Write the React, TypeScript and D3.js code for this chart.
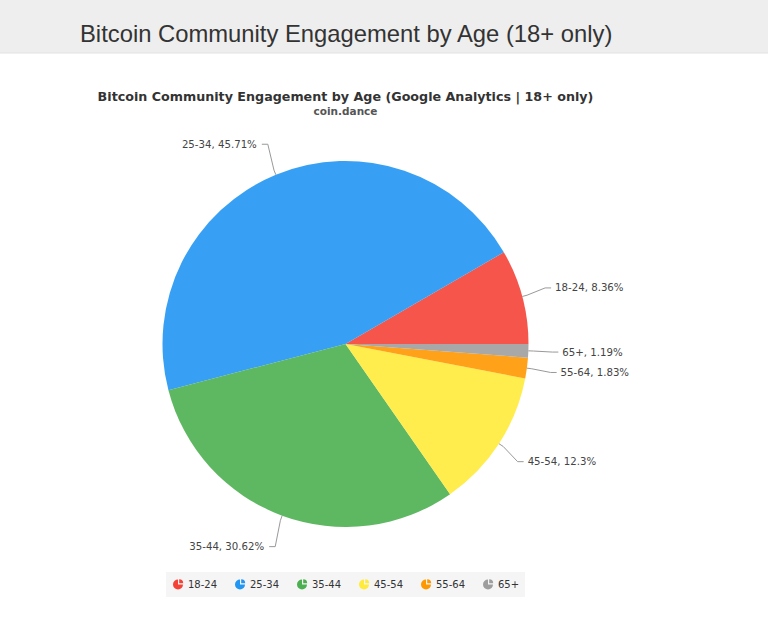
import React from 'react'
import * as d3 from 'd3'

const ageGroups = ['18-24', '25-34', '35-44', '45-54', '55-64', '65+']
const shares = [8.36, 45.71, 30.62, 12.3, 1.83, 1.19]
const sliceColors = ['#f44336', '#2196f3', '#4caf50', '#ffeb3b', '#ff9800', '#9e9e9e']

const W = 768
const H = 631

export default function App() {
  const cx = 345.5
  const cy = 344
  const r = 183
  const labelR = 216

  // slices run counterclockwise from 3 o'clock
  const pie = d3.pie<number>()
    .sort(null)
    .startAngle(Math.PI / 2)
    .endAngle(Math.PI / 2 - 2 * Math.PI)
  const arcs = pie(shares)
  const arc = d3.arc<d3.PieArcDatum<number>>().innerRadius(0).outerRadius(r)

  const polar = (rad: number, a: number) => [cx + rad * Math.sin(a), cy - rad * Math.cos(a)]

  // legend layout
  const legendX = d3.scalePoint<string>().domain(ageGroups).range([178, 488])
  const iconArc = d3.arc<any>().innerRadius(0)

  return (
    <svg width={W} height={H} style={{ position: 'absolute', left: 0, top: 0, background: '#fff' }}
      fontFamily="'DejaVu Sans', Verdana, sans-serif">
      <rect x={0} y={0} width={W} height={53} fill="#eeeeee" />
      <line x1={0} x2={W} y1={53} y2={53} stroke="#e2e2e2" />
      <text x={80} y={42} fontFamily="'Liberation Sans', Arial, sans-serif" fontSize={23.8} fill="#333">
        Bitcoin Community Engagement by Age (18+ only)
      </text>

      <text x={cx} y={101} textAnchor="middle" fontSize={12.7} fontWeight="bold" fill="#333">
        Bitcoin Community Engagement by Age (Google Analytics | 18+ only)
      </text>
      <text x={cx} y={114.5} textAnchor="middle" fontSize={10.5} fontWeight="bold" fill="#555">
        coin.dance
      </text>

      <g transform={`translate(${cx},${cy})`}>
        {arcs.map((d, i) => (
          <path key={i} d={arc(d) || ''} fill={sliceColors[i]} fillOpacity={0.9} />
        ))}
      </g>

      {arcs.map((d, i) => {
        const mid = (d.startAngle + d.endAngle) / 2
        const right = Math.sin(mid) >= 0
        const [ex, ey] = polar(r, mid)
        const [ox, oy] = polar(r + 5, mid)
        const [bx, by] = polar(labelR, mid)
        // connector: pie edge -> just outside -> bend -> short horizontal run -> text
        const bendX = right ? bx - 9 : bx + 4.5
        const endX = right ? bx - 3 : bx - 1.5
        const textX = right ? bx + 1 : bx - 6.5
        return (
          <g key={i}>
            <path d={`M${ex},${ey}L${ox},${oy}L${bendX},${by}L${endX},${by}`} fill="none" stroke="#999" strokeWidth={1} />
            <text x={textX} y={by} dy="0.35em" textAnchor={right ? 'start' : 'end'} fontSize={10.2} fill="#444">
              {`${ageGroups[i]}, ${shares[i]}%`}
            </text>
          </g>
        )
      })}

      <rect x={166} y={572} width={359} height={25} fill="#f5f5f5" />
      {ageGroups.map((g, i) => {
        const x = legendX(g) as number
        const y = 584.5
        return (
          <g key={g}>
            <path transform={`translate(${x},${y})`}
              d={iconArc({ outerRadius: 5, startAngle: Math.PI / 2, endAngle: 2 * Math.PI }) || ''}
              fill={sliceColors[i]} />
            <path transform={`translate(${x + 1.2},${y - 1.2})`}
              d={iconArc({ outerRadius: 4, startAngle: 0, endAngle: Math.PI / 2 }) || ''}
              fill={sliceColors[i]} />
            <text x={x + 10} y={y} dy="0.35em" fontSize={10} fill="#333">{g}</text>
          </g>
        )
      })}
    </svg>
  )
}
